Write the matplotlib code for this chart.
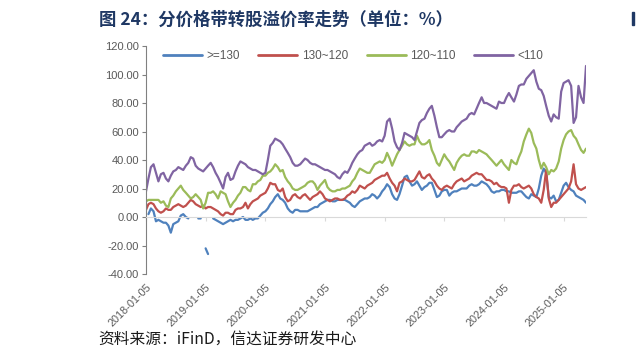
import numpy as np
import matplotlib
matplotlib.use("Agg")
import matplotlib.pyplot as plt
import matplotlib.dates as mdates
from matplotlib.patches import Rectangle
from matplotlib.ticker import FormatStrFormatter

nan = np.nan

# ---------------- data ----------------
start_date = "2018-01-05"
n_points = 178          # roughly semi-monthly observations
step_days = 15.22
tick_labels = ["2018-01-05", "2019-01-05", "2020-01-05", "2021-01-05",
               "2022-01-05", "2023-01-05", "2024-01-05", "2025-01-05"]
series_names = [">=130", "130~120", "120~110", "<110"]

ge130 = [nan, 2, 6, 4, -3, -2, -3, -4, -4, -6,
         -11, -5, -4, -3, 1, 2, 0, -1, nan, nan,
         nan, -1, -1, nan, -22, -26, nan, -1, -2, -3,
         -4, -5, -4, -3, -2, -3, -2, -2, -1, 0,
         -2, -2, -1, -2, -1, -1, 1, 3, 4, 6,
         9, 11, 14, 16, 13, 12, 10, 6, 4, 3,
         5, 5, 4, 4, 4, 4, 5, 6, 7, 7,
         9, 10, 11, 12, 12, 11, 11, 12, 12, 12,
         12, 11, 10, 8, 7, 9, 11, 12, 13, 13,
         14, 16, 15, 13, 15, 18, 20, 23, 21, 16,
         13, 12, 16, 22, 28, 29, 25, 22, 23, 25,
         22, 19, 21, 22, 24, 24, 19, 14, 15, 18,
         19, 19, 15, 17, 18, 18, 19, 20, 20, 20,
         22, 23, 22, 22, 23, 25, 24, 23, 21, 18,
         17, 18, 18, 19, 19, 18, 18, 17, 17, 17,
         18, 18, 16, 14, 13, 16, 15, 14, 20, 29,
         34, 31, 14, 13, 15, 11, 12, 17, 22, 24,
         21, 19, 18, 15, 14, 13, 12, 10]

r130_120 = [5, 9, 10, 9, 6, 4, 3, 4, 6, 5,
            5, 7, 8, 9, 8, 7, 8, 10, 12, 11,
            9, 8, 7, 8, 6, 7, 7, 6, 5, 4,
            2, 1, 3, 3, 2, 2, 5, 6, 6, 7,
            10, 6, 9, 11, 12, 13, 15, 16, 17, 20,
            24, 23, 23, 19, 18, 20, 14, 11, 12, 15,
            16, 14, 13, 15, 16, 14, 12, 14, 15, 16,
            18, 16, 13, 12, 11, 12, 13, 13, 12, 12,
            13, 15, 16, 18, 17, 19, 22, 21, 20, 22,
            23, 24, 26, 27, 28, 29, 29, 31, 27, 24,
            22, 18, 24, 25, 27, 26, 25, 25, 26, 29,
            32, 28, 27, 29, 30, 27, 25, 22, 20, 19,
            21, 22, 21, 20, 23, 25, 26, 27, 25, 26,
            27, 29, 30, 31, 30, 30, 28, 26, 26, 25,
            23, 24, 22, 21, 21, 20, 10, 19, 22, 22,
            23, 21, 20, 21, 22, 20, 16, 14, 13, 10,
            19, 33, 13, 7, 10, 10, 12, 14, 16, 18,
            20, 25, 37, 23, 20, 19, 20, 21]

r120_110 = [11, 12, 12, 12, 12, 12, 10, 11, 8, 7,
            13, 15, 18, 20, 22, 19, 17, 15, 13, 14,
            16, 14, 12, 6, 10, 17, 17, 18, 16, 13,
            18, 17, 16, 11, 7, 10, 12, 15, 17, 21,
            21, 19, 18, 23, 23, 25, 26, 29, 29, 31,
            32, 34, 37, 35, 32, 33, 28, 25, 23, 20,
            19, 19, 20, 21, 22, 24, 25, 25, 23, 19,
            22, 24, 26, 21, 19, 18, 18, 19, 19, 20,
            20, 21, 22, 25, 27, 31, 34, 33, 32, 31,
            31, 34, 37, 38, 39, 38, 40, 45, 41, 36,
            40, 44, 47, 50, 53, 51, 50, 51, 51, 57,
            53, 51, 51, 52, 54, 47, 43, 38, 36, 40,
            44, 41, 39, 36, 33, 38, 41, 43, 44, 43,
            43, 46, 46, 45, 47, 46, 45, 44, 42, 40,
            38, 36, 38, 40, 37, 35, 33, 40, 38, 37,
            42, 46, 53, 58, 62, 59, 52, 48, 40, 34,
            38, 35, 30, 33, 32, 34, 39, 48, 54, 58,
            60, 61, 57, 55, 51, 47, 45, 48]

lt110 = [18, 27, 35, 37, 31, 25, 30, 31, 27, 25,
         29, 32, 33, 35, 34, 33, 36, 38, 42, 41,
         36, 34, 33, 32, 34, 36, 38, 35, 31, 28,
         24, 20, 28, 31, 26, 27, 32, 36, 39, 38,
         37, 35, 34, 33, 33, 32, 31, 30, 31, 40,
         50, 52, 55, 54, 53, 51, 48, 45, 42, 38,
         36, 36, 37, 39, 41, 40, 38, 37, 37, 36,
         35, 34, 33, 33, 32, 31, 30, 28, 27, 30,
         32, 31, 34, 38, 41, 44, 46, 47, 50, 51,
         52, 50, 51, 53, 54, 53, 57, 67, 69, 62,
         53, 49, 47, 52, 59, 58, 57, 56, 54, 60,
         66, 68, 69, 73, 76, 78, 71, 63, 56, 56,
         58, 60, 61, 60, 60, 63, 65, 67, 68, 69,
         72, 73, 72, 76, 80, 84, 80, 80, 79, 78,
         77, 76, 81, 80, 80, 84, 87, 84, 81, 86,
         92, 93, 93, 97, 99, 101, 103, 95, 90, 89,
         85, 78, 71, 67, 72, 70, 69, 88, 94, 95,
         96, 92, 66, 70, 92, 84, 80, 106]

colors = ["#4F81BD", "#C0504D", "#9BBB59", "#8064A2"]

# ---------------- figure ----------------
dates = np.datetime64(start_date) + np.round(np.arange(n_points) * step_days).astype("timedelta64[D]")
x = mdates.date2num(dates)

fig = plt.figure(figsize=(6.36, 3.57), dpi=100)
ax = fig.add_axes([146 / 636, 1 - 274 / 357, 440 / 636, 228 / 357])

handles = []
for vals, name, c in zip([ge130, r130_120, r120_110, lt110], series_names, colors):
    h, = ax.plot(x, np.array(vals, dtype=float), color=c, lw=1.6, label=name,
                 solid_joinstyle="round", solid_capstyle="round")
    handles.append(h)

ax.set_xlim(x[0], x[-1])
ax.set_ylim(-40, 120)
ax.set_yticks(np.arange(-40, 121, 20))
ax.yaxis.set_major_formatter(FormatStrFormatter("%.2f"))

tick_font = "Liberation Sans"
for lab in ax.get_yticklabels():
    lab.set_fontfamily(tick_font)
ax.tick_params(axis="y", labelsize=8, labelcolor="#595959", color="#808080",
               length=3, width=0.8, direction="out", pad=2)

for s in ["top", "right"]:
    ax.spines[s].set_visible(False)
ax.spines["left"].set_color("#808080")
ax.spines["left"].set_linewidth(0.8)
ax.spines["bottom"].set_position(("data", 0))
ax.spines["bottom"].set_color("#D9D9D9")
ax.spines["bottom"].set_linewidth(0.8)

tick_pos = mdates.date2num(np.array(tick_labels, dtype="datetime64[D]"))
ax.set_xticks(tick_pos)
ax.tick_params(axis="x", labelbottom=False, color="#D9D9D9", length=3,
               width=0.8, direction="out")
trans = ax.get_xaxis_transform()
for tp, lab in zip(tick_pos, tick_labels):
    ax.text(tp, -0.035, lab, transform=trans, rotation=45, ha="right", va="top",
            rotation_mode="anchor", fontsize=7.8, color="#595959", family=tick_font)

leg = ax.legend(handles=handles, loc="center left", bbox_to_anchor=(0.0386, 0.957),
                ncol=4, frameon=False, handlelength=3.3,
                handletextpad=0.35, columnspacing=1.6, borderpad=0, borderaxespad=0,
                prop={"family": tick_font, "size": 8.5})
for t in leg.get_texts():
    t.set_color("#595959")
for lh in leg.get_lines():
    lh.set_linewidth(2)

fig.text(99 / 636, 1 - 20 / 357, "图 24：分价格带转股溢价率走势（单位：%）",
         fontsize=12.5, fontweight="bold", color="#1F3864",
         family=["Noto Sans CJK SC", "DejaVu Sans"], va="center", ha="left")
fig.text(98 / 636, 1 - 339 / 357, "资料来源：iFinD，信达证券研发中心",
         fontsize=11.3, color="#1a1a1a", family=["Noto Sans CJK SC", "DejaVu Sans"],
         va="center", ha="left")
fig.patches.append(Rectangle((632 / 636, 1 - 25 / 357), 2 / 636, 13 / 357,
                             transform=fig.transFigure, color="#1F3864"))

fig.savefig("out.png", dpi=100)
